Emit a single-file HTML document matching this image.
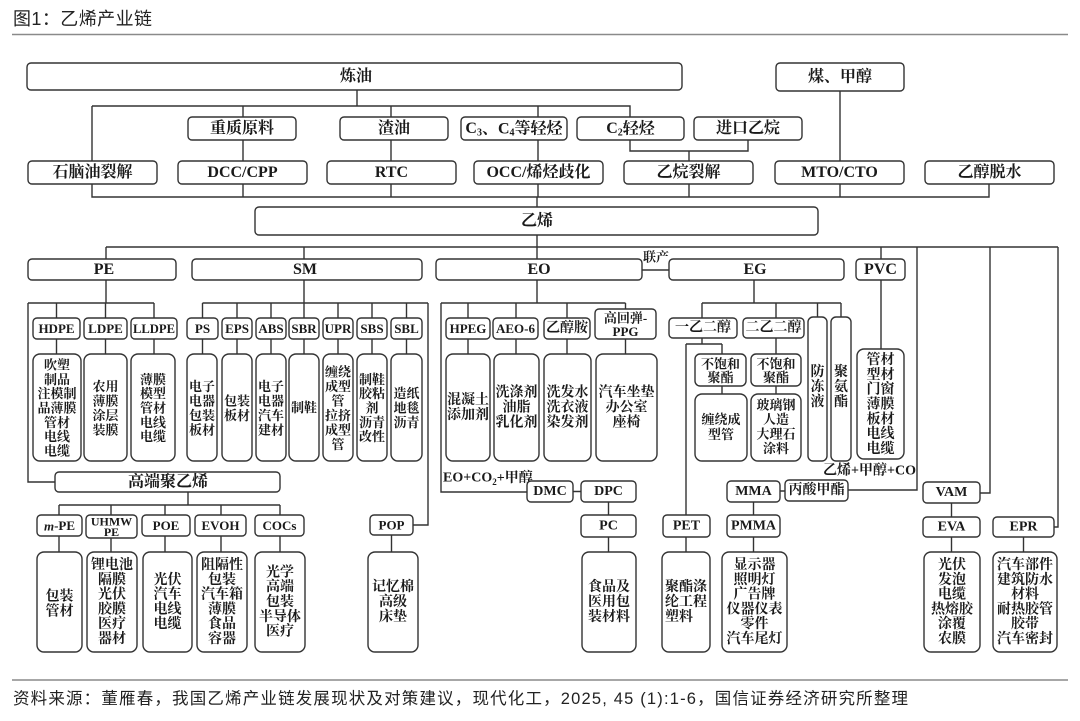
<!DOCTYPE html>
<html><head><meta charset="utf-8"><style>
html,body{margin:0;padding:0;background:#fff;}
svg{display:block;}
.b{fill:#fff;stroke:#333;stroke-width:1.4}
.l{fill:none;stroke:#333;stroke-width:1.4}
text{font-family:"Liberation Serif","Noto Serif CJK SC",serif;font-weight:700;fill:#1a1a1a;text-anchor:middle;dominant-baseline:central}
.s16{font-size:16px}
.s14{font-size:14px}
.s13{font-size:13px}
.s12{font-size:12px}
.hd{font-family:"Liberation Sans","Noto Sans CJK SC",sans-serif;font-weight:400;text-anchor:start;fill:#222}
</style></head><body>
<svg width="1080" height="721" viewBox="0 0 1080 721" xmlns="http://www.w3.org/2000/svg">
<rect x="0" y="0" width="1080" height="721" fill="#fff"/>
<!-- title -->
<text class="hd" x="13" y="19" style="font-size:18px" textLength="139" lengthAdjust="spacing">图1：乙烯产业链</text>
<line x1="12" y1="34.5" x2="1068" y2="34.5" stroke="#8a8a8a" stroke-width="1.5"/>

<!-- connectors -->
<path class="l" d="M357 90V106 M92 106H630V117 M92 106V161 M243 106V117 M243 140V161 M391 106V117 M391 140V161 M538 106V117 M538 140V161
M630 140V151H748V140 M689 151V161 M840 91V161
M92 184V197H989V184 M243 184V197 M391 184V197 M538 184V197 M689 184V197 M840 184V197
M537 197V207 M537 235V259 M106 247H1058
M106 247V259 M106 280V303 M28 303H154 M56.5 303V318 M105.5 303V318 M154 303V318 M28 303V482H55
M56.5 339V354 M105.5 339V354 M154 339V354
M304 247V259 M304 280V303 M202.5 303H428 M202.5 303V318 M237 303V318 M271 303V318 M304 303V318 M338 303V318 M372 303V318 M406.5 303V318
M202.5 339V354 M237 339V354 M271 339V354 M304 339V354 M338 339V354 M372 339V354 M406.5 339V354
M428 303V525H413
M188 492V505 M59 505H280 M59 505V515 M111 505V515 M165 505V515 M221 505V515 M280 505V515
M59 536V552 M111 538V552 M165 536V552 M221 536V552 M280 536V552 M391.5 535V552
M537 280V303 M441 303H625.5 M468 303V318 M516 303V318 M567 303V318 M625.5 303V309
M468 339V354 M516 339V354 M567 339V354 M625.5 339V354
M441 303V492H527 M573 491.5H581 M608.5 502V515 M608.5 537V552
M642 270H669
M754 280V303 M702 303H841 M702 303V318 M776 303V318 M817.5 303V317 M841 303V317
M702 338V344 M686 344H722 M686 344V515 M722 344V354 M722 386V394 M776 338V354 M776 386V394
M686 537V552
M881 247V259 M881 280V349
M917 247V490H848 M780 491H785 M753.5 502V515 M753.5 537V552
M990 247V493H980 M951.5 503V517 M951.5 537V552
M1058 247V527H1054 M1023.5 537V552"/>

<!-- Row 1 -->
<rect class="b" x="27" y="63" width="655" height="27" rx="4"/>
<text class="s16" x="356" y="76.5">炼油</text>
<rect class="b" x="776" y="63" width="128" height="28" rx="4"/>
<text class="s16" x="840" y="77">煤、甲醇</text>

<!-- Row 2 -->
<rect class="b" x="188" y="117" width="108" height="23" rx="4"/>
<text class="s16" x="242" y="128.5">重质原料</text>
<rect class="b" x="340" y="117" width="108" height="23" rx="4"/>
<text class="s16" x="394" y="128.5">渣油</text>
<rect class="b" x="461" y="117" width="106" height="23" rx="4"/>
<text class="s16" x="514" y="128.5">C<tspan font-size="10" dy="4">3</tspan><tspan dy="-4">、C</tspan><tspan font-size="10" dy="4">4</tspan><tspan dy="-4">等轻烃</tspan></text>
<rect class="b" x="577" y="117" width="107" height="23" rx="4"/>
<text class="s16" x="630.5" y="128.5">C<tspan font-size="10" dy="4">2</tspan><tspan dy="-4">轻烃</tspan></text>
<rect class="b" x="694" y="117" width="108" height="23" rx="4"/>
<text class="s16" x="748" y="128.5">进口乙烷</text>

<!-- Row 3 -->
<rect class="b" x="28" y="161" width="129" height="23" rx="4"/>
<text class="s16" x="92.5" y="172.5">石脑油裂解</text>
<rect class="b" x="178" y="161" width="129" height="23" rx="4"/>
<text class="s16" x="242.5" y="172.5">DCC/CPP</text>
<rect class="b" x="327" y="161" width="129" height="23" rx="4"/>
<text class="s16" x="391.5" y="172.5">RTC</text>
<rect class="b" x="474" y="161" width="129" height="23" rx="4"/>
<text class="s16" x="538.5" y="172.5">OCC/烯烃歧化</text>
<rect class="b" x="624" y="161" width="129" height="23" rx="4"/>
<text class="s16" x="688.5" y="172.5">乙烷裂解</text>
<rect class="b" x="775" y="161" width="129" height="23" rx="4"/>
<text class="s16" x="839.5" y="172.5">MTO/CTO</text>
<rect class="b" x="925" y="161" width="129" height="23" rx="4"/>
<text class="s16" x="989.5" y="172.5">乙醇脱水</text>

<!-- 乙烯 -->
<rect class="b" x="255" y="207" width="563" height="28" rx="4"/>
<text class="s16" x="537" y="221">乙烯</text>

<!-- Row 4 -->
<rect class="b" x="28" y="259" width="148" height="21" rx="4"/>
<text class="s16" x="104" y="269.5">PE</text>
<rect class="b" x="192" y="259" width="230" height="21" rx="4"/>
<text class="s16" x="305" y="269.5">SM</text>
<rect class="b" x="436" y="259" width="206" height="21" rx="4"/>
<text class="s16" x="539" y="269.5">EO</text>
<rect class="b" x="669" y="259" width="175" height="21" rx="4"/>
<text class="s16" x="755" y="269.5">EG</text>
<rect class="b" x="856" y="259" width="49" height="21" rx="4"/>
<text class="s16" x="880.5" y="269.5">PVC</text>
<text class="s13" x="656" y="257">联产</text>

<!-- PE/SM children -->
<rect class="b" x="33" y="318" width="47" height="21" rx="4"/><text class="s13" x="56.5" y="328.5">HDPE</text>
<rect class="b" x="84" y="318" width="43" height="21" rx="4"/><text class="s13" x="105.5" y="328.5">LDPE</text>
<rect class="b" x="131" y="318" width="46" height="21" rx="4"/><text class="s13" x="154" y="328.5" textLength="42" lengthAdjust="spacingAndGlyphs">LLDPE</text>
<rect class="b" x="187" y="318" width="31" height="21" rx="4"/><text class="s13" x="202.5" y="328.5">PS</text>
<rect class="b" x="222" y="318" width="30" height="21" rx="4"/><text class="s13" x="237" y="328.5">EPS</text>
<rect class="b" x="256" y="318" width="30" height="21" rx="4"/><text class="s13" x="271" y="328.5">ABS</text>
<rect class="b" x="289" y="318" width="30" height="21" rx="4"/><text class="s13" x="304" y="328.5">SBR</text>
<rect class="b" x="323" y="318" width="30" height="21" rx="4"/><text class="s13" x="338" y="328.5">UPR</text>
<rect class="b" x="357" y="318" width="30" height="21" rx="4"/><text class="s13" x="372" y="328.5">SBS</text>
<rect class="b" x="391" y="318" width="31" height="21" rx="4"/><text class="s13" x="406.5" y="328.5">SBL</text>

<!-- PE/SM leaves -->
<rect class="b" x="33" y="354" width="48" height="107" rx="7"/>
<text class="s13"><tspan x="57" y="364.6">吹塑</tspan><tspan x="57" y="378.9">制品</tspan><tspan x="57" y="393.2">注模制</tspan><tspan x="57" y="407.5">品薄膜</tspan><tspan x="57" y="421.8">管材</tspan><tspan x="57" y="436.1">电线</tspan><tspan x="57" y="450.4">电缆</tspan></text>
<rect class="b" x="84" y="354" width="43" height="107" rx="7"/>
<text class="s13"><tspan x="105.5" y="385.8">农用</tspan><tspan x="105.5" y="400.3">薄膜</tspan><tspan x="105.5" y="414.8">涂层</tspan><tspan x="105.5" y="429.3">装膜</tspan></text>
<rect class="b" x="131" y="354" width="44" height="107" rx="7"/>
<text class="s13"><tspan x="153" y="378.9">薄膜</tspan><tspan x="153" y="393.2">模型</tspan><tspan x="153" y="407.5">管材</tspan><tspan x="153" y="421.8">电线</tspan><tspan x="153" y="436.1">电缆</tspan></text>
<rect class="b" x="187" y="354" width="30" height="107" rx="7"/>
<text class="s13"><tspan x="202" y="385.8">电子</tspan><tspan x="202" y="400.3">电器</tspan><tspan x="202" y="414.8">包装</tspan><tspan x="202" y="429.3">板材</tspan></text>
<rect class="b" x="222" y="354" width="30" height="107" rx="7"/>
<text class="s13"><tspan x="237" y="400.3">包装</tspan><tspan x="237" y="414.8">板材</tspan></text>
<rect class="b" x="256" y="354" width="30" height="107" rx="7"/>
<text class="s13"><tspan x="271" y="385.8">电子</tspan><tspan x="271" y="400.3">电器</tspan><tspan x="271" y="414.8">汽车</tspan><tspan x="271" y="429.3">建材</tspan></text>
<rect class="b" x="289" y="354" width="30" height="107" rx="7"/>
<text class="s13" x="304" y="407.5">制鞋</text>
<rect class="b" x="323" y="354" width="30" height="107" rx="7"/>
<text class="s13"><tspan x="338" y="371.3">缠绕</tspan><tspan x="338" y="385.8">成型</tspan><tspan x="338" y="400.3">管</tspan><tspan x="338" y="414.8">拉挤</tspan><tspan x="338" y="429.3">成型</tspan><tspan x="338" y="443.8">管</tspan></text>
<rect class="b" x="357" y="354" width="30" height="107" rx="7"/>
<text class="s13"><tspan x="372" y="378.9">制鞋</tspan><tspan x="372" y="393.2">胶粘</tspan><tspan x="372" y="407.5">剂</tspan><tspan x="372" y="421.8">沥青</tspan><tspan x="372" y="436.1">改性</tspan></text>
<rect class="b" x="391" y="354" width="31" height="107" rx="7"/>
<text class="s13"><tspan x="406.5" y="393">造纸</tspan><tspan x="406.5" y="407.5">地毯</tspan><tspan x="406.5" y="422">沥青</tspan></text>

<!-- EO children -->
<rect class="b" x="446" y="318" width="44" height="21" rx="4"/><text class="s13" x="468" y="328.5">HPEG</text>
<rect class="b" x="493" y="318" width="45" height="21" rx="4"/><text class="s13" x="515.5" y="328.5">AEO-6</text>
<rect class="b" x="544" y="318" width="46" height="21" rx="4"/><text class="s14" x="567" y="328.5">乙醇胺</text>
<rect class="b" x="595" y="309" width="61" height="30" rx="4"/>
<text class="s13"><tspan x="625.5" y="317.5">高回弹-</tspan><tspan x="625.5" y="331">PPG</tspan></text>

<rect class="b" x="446" y="354" width="44" height="107" rx="7"/>
<text class="s14"><tspan x="468" y="400">混凝土</tspan><tspan x="468" y="415">添加剂</tspan></text>
<rect class="b" x="494" y="354" width="45" height="107" rx="7"/>
<text class="s14"><tspan x="516.5" y="392.5">洗涤剂</tspan><tspan x="516.5" y="407.5">油脂</tspan><tspan x="516.5" y="422.5">乳化剂</tspan></text>
<rect class="b" x="544" y="354" width="47" height="107" rx="7"/>
<text class="s14"><tspan x="567.5" y="392.5">洗发水</tspan><tspan x="567.5" y="407.5">洗衣液</tspan><tspan x="567.5" y="422.5">染发剂</tspan></text>
<rect class="b" x="596" y="354" width="61" height="107" rx="7"/>
<text class="s14"><tspan x="626.5" y="392.5">汽车坐垫</tspan><tspan x="626.5" y="407.5">办公室</tspan><tspan x="626.5" y="422.5">座椅</tspan></text>

<!-- EG children -->
<rect class="b" x="669" y="318" width="68" height="20" rx="4"/><text class="s14" x="703" y="328">一乙二醇</text>
<rect class="b" x="743" y="318" width="61" height="20" rx="4"/><text class="s14" x="773.5" y="328">二乙二醇</text>
<rect class="b" x="808" y="317" width="19" height="144" rx="5"/>
<text class="s14"><tspan x="817.5" y="372">防</tspan><tspan x="817.5" y="387">冻</tspan><tspan x="817.5" y="402">液</tspan></text>
<rect class="b" x="831" y="317" width="20" height="144" rx="5"/>
<text class="s14"><tspan x="841" y="372">聚</tspan><tspan x="841" y="387">氨</tspan><tspan x="841" y="402">酯</tspan></text>

<rect class="b" x="695" y="354" width="51" height="32" rx="5"/>
<text class="s13"><tspan x="720.5" y="363.5">不饱和</tspan><tspan x="720.5" y="377">聚酯</tspan></text>
<rect class="b" x="751" y="354" width="50" height="32" rx="5"/>
<text class="s13"><tspan x="776" y="363.5">不饱和</tspan><tspan x="776" y="377">聚酯</tspan></text>
<rect class="b" x="695" y="394" width="52" height="67" rx="7"/>
<text class="s13"><tspan x="721" y="419">缠绕成</tspan><tspan x="721" y="434">型管</tspan></text>
<rect class="b" x="751" y="394" width="50" height="67" rx="7"/>
<text class="s13"><tspan x="776" y="404.5">玻璃钢</tspan><tspan x="776" y="419">人造</tspan><tspan x="776" y="433.5">大理石</tspan><tspan x="776" y="448">涂料</tspan></text>

<!-- PVC leaf -->
<rect class="b" x="857" y="349" width="47" height="110" rx="7"/>
<text class="s14"><tspan x="880.5" y="360.1">管材</tspan><tspan x="880.5" y="374.9">型材</tspan><tspan x="880.5" y="389.7">门窗</tspan><tspan x="880.5" y="404.5">薄膜</tspan><tspan x="880.5" y="419.3">板材</tspan><tspan x="880.5" y="434.1">电线</tspan><tspan x="880.5" y="448.9">电缆</tspan></text>

<text class="s14" x="823" y="471" style="text-anchor:start">乙烯+甲醇+CO</text>
<text class="s14" x="443" y="478" style="text-anchor:start">EO+CO<tspan font-size="9" dy="4">2</tspan><tspan dy="-4">+甲醇</tspan></text>

<!-- 高端聚乙烯 -->
<rect class="b" x="55" y="472" width="225" height="20" rx="4"/>
<text class="s16" x="168" y="482">高端聚乙烯</text>

<!-- Row B children -->
<rect class="b" x="37" y="515" width="45" height="21" rx="4"/><text class="s13" x="59.5" y="525.5"><tspan font-style="italic">m</tspan>-PE</text>
<rect class="b" x="86" y="515" width="51" height="23" rx="4"/>
<text class="s12"><tspan x="111.5" y="521.5">UHMW</tspan><tspan x="111.5" y="532">PE</tspan></text>
<rect class="b" x="142" y="515" width="48" height="21" rx="4"/><text class="s13" x="166" y="525.5">POE</text>
<rect class="b" x="195" y="515" width="51" height="21" rx="4"/><text class="s13" x="220.5" y="525.5">EVOH</text>
<rect class="b" x="255" y="515" width="49" height="21" rx="4"/><text class="s13" x="279.5" y="525.5">COCs</text>
<rect class="b" x="370" y="515" width="43" height="20" rx="4"/><text class="s13" x="391.5" y="525">POP</text>

<rect class="b" x="527" y="481" width="46" height="21" rx="4"/><text class="s14" x="550" y="491.5">DMC</text>
<rect class="b" x="581" y="481" width="55" height="21" rx="4"/><text class="s14" x="608.5" y="491.5">DPC</text>
<rect class="b" x="581" y="515" width="55" height="22" rx="4"/><text class="s14" x="608.5" y="526">PC</text>
<rect class="b" x="663" y="515" width="47" height="22" rx="4"/><text class="s14" x="686.5" y="526">PET</text>
<rect class="b" x="727" y="481" width="53" height="21" rx="4"/><text class="s14" x="753.5" y="491.5">MMA</text>
<rect class="b" x="785" y="480" width="63" height="21" rx="4"/><text class="s14" x="816.5" y="490.5">丙酸甲酯</text>
<rect class="b" x="727" y="515" width="53" height="22" rx="4"/><text class="s14" x="753.5" y="526">PMMA</text>
<rect class="b" x="923" y="482" width="57" height="21" rx="4"/><text class="s14" x="951.5" y="492.5">VAM</text>
<rect class="b" x="923" y="517" width="57" height="20" rx="4"/><text class="s14" x="951.5" y="527">EVA</text>
<rect class="b" x="993" y="517" width="61" height="20" rx="4"/><text class="s14" x="1023.5" y="527">EPR</text>

<!-- Row B leaves -->
<rect class="b" x="37" y="552" width="45" height="100" rx="7"/>
<text class="s14"><tspan x="59.5" y="596.6">包装</tspan><tspan x="59.5" y="611.4">管材</tspan></text>
<rect class="b" x="87" y="552" width="50" height="100" rx="7"/>
<text class="s14"><tspan x="112" y="565">锂电池</tspan><tspan x="112" y="579.8">隔膜</tspan><tspan x="112" y="594.6">光伏</tspan><tspan x="112" y="609.4">胶膜</tspan><tspan x="112" y="624.2">医疗</tspan><tspan x="112" y="639">器材</tspan></text>
<rect class="b" x="143" y="552" width="49" height="100" rx="7"/>
<text class="s14"><tspan x="167.5" y="579.8">光伏</tspan><tspan x="167.5" y="594.6">汽车</tspan><tspan x="167.5" y="609.4">电线</tspan><tspan x="167.5" y="624.2">电缆</tspan></text>
<rect class="b" x="197" y="552" width="50" height="100" rx="7"/>
<text class="s14"><tspan x="222" y="565">阻隔性</tspan><tspan x="222" y="579.8">包装</tspan><tspan x="222" y="594.6">汽车箱</tspan><tspan x="222" y="609.4">薄膜</tspan><tspan x="222" y="624.2">食品</tspan><tspan x="222" y="639">容器</tspan></text>
<rect class="b" x="255" y="552" width="50" height="100" rx="7"/>
<text class="s14"><tspan x="280" y="572.4">光学</tspan><tspan x="280" y="587.2">高端</tspan><tspan x="280" y="602">包装</tspan><tspan x="280" y="616.8">半导体</tspan><tspan x="280" y="631.6">医疗</tspan></text>
<rect class="b" x="368" y="552" width="50" height="100" rx="7"/>
<text class="s14"><tspan x="393" y="587.2">记忆棉</tspan><tspan x="393" y="602">高级</tspan><tspan x="393" y="616.8">床垫</tspan></text>
<rect class="b" x="582" y="552" width="54" height="100" rx="7"/>
<text class="s14"><tspan x="609" y="587.2">食品及</tspan><tspan x="609" y="602">医用包</tspan><tspan x="609" y="616.8">装材料</tspan></text>
<rect class="b" x="662" y="552" width="48" height="100" rx="7"/>
<text class="s14" style="text-anchor:start"><tspan x="665" y="587.2">聚酯涤</tspan><tspan x="665" y="602">纶工程</tspan><tspan x="665" y="616.8">塑料</tspan></text>
<rect class="b" x="722" y="552" width="65" height="100" rx="7"/>
<text class="s14"><tspan x="754.5" y="565">显示器</tspan><tspan x="754.5" y="579.8">照明灯</tspan><tspan x="754.5" y="594.6">广告牌</tspan><tspan x="754.5" y="609.4">仪器仪表</tspan><tspan x="754.5" y="624.2">零件</tspan><tspan x="754.5" y="639">汽车尾灯</tspan></text>
<rect class="b" x="924" y="552" width="56" height="100" rx="7"/>
<text class="s14"><tspan x="952" y="565">光伏</tspan><tspan x="952" y="579.8">发泡</tspan><tspan x="952" y="594.6">电缆</tspan><tspan x="952" y="609.4">热熔胶</tspan><tspan x="952" y="624.2">涂覆</tspan><tspan x="952" y="639">农膜</tspan></text>
<rect class="b" x="993" y="552" width="64" height="100" rx="7"/>
<text class="s14"><tspan x="1025" y="565">汽车部件</tspan><tspan x="1025" y="579.8">建筑防水</tspan><tspan x="1025" y="594.6">材料</tspan><tspan x="1025" y="609.4">耐热胶管</tspan><tspan x="1025" y="624.2">胶带</tspan><tspan x="1025" y="639">汽车密封</tspan></text>

<!-- caption -->
<line x1="12" y1="680" x2="1068" y2="680" stroke="#8a8a8a" stroke-width="1.5"/>
<text class="hd" x="13" y="699" style="font-size:16.5px" textLength="895" lengthAdjust="spacing">资料来源：董雁春，我国乙烯产业链发展现状及对策建议，现代化工，2025, 45 (1):1-6，国信证券经济研究所整理</text>
</svg>
</body></html>
